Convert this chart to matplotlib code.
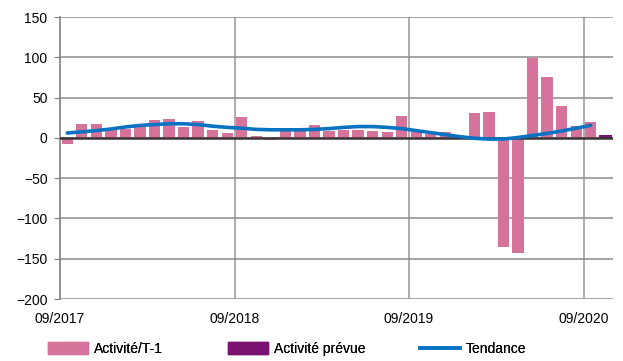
import numpy as np
import matplotlib
matplotlib.use("Agg")
import matplotlib.pyplot as plt
from matplotlib.patches import Patch
from matplotlib.lines import Line2D

plt.rcParams["font.family"] = ["Liberation Sans", "DejaVu Sans"]

# monthly series, 09/2017 .. 09/2020
activite_t1 = [-8, 17.5, 17.5, 10, 11.5, 15, 22, 24, 13.5, 20.5, 10, 5.5,
               26, 2.5, -2.5, 8, 8, 16, 9, 9.5, 10, 8.5, 7, 27,
               8, 4.5, 7.5, 2, 30.5, 32, -136, -143, 99, 76, 40, 15,
               20]
# forecast for the following month (10/2020)
activite_prevue = [4]
tendance = [6, 7.5, 9, 11, 13.5, 15.5, 16.5, 17.5, 17.5, 16.5, 14.5, 13,
            12, 10.5, 10, 10, 10, 10.5, 11.5, 13, 14, 14, 13, 11.5,
            9, 6.5, 4, 1.5, -0.5, -1.5, -1.5, 0.5, 3, 5.5, 8.5, 12,
            15.5]
tick_labels = ["09/2017", "09/2018", "09/2019", "09/2020"]
tick_pos = [0, 12, 24, 36]

PINK = "#D5739B"
PURPLE = "#7A1272"
BLUE = "#0A72C2"
GRID = "#8C8C8C"

fig = plt.figure(figsize=(6.23, 3.61), dpi=100)
ax = fig.add_axes([0.0963, 0.1717, 0.887, 0.7812])

n_obs = len(activite_t1)
x_obs = np.arange(n_obs) + 0.5
x_prev = np.arange(n_obs, n_obs + len(activite_prevue)) + 0.5

ax.bar(x_obs, activite_t1, width=0.78, color=PINK, zorder=2)
ax.bar(x_prev, activite_prevue, width=0.85, color=PURPLE, zorder=2)
ax.plot(x_obs[:len(tendance)], tendance, color=BLUE, lw=2.6,
        solid_capstyle="round", zorder=4)
ax.axhline(0, color="#3C3436", lw=1.8, zorder=3)

ax.set_xlim(0, n_obs + len(activite_prevue))
ax.set_ylim(-200, 150)
ax.set_yticks(np.arange(-200, 151, 50))
ax.set_xticks(tick_pos)
ax.set_xticklabels(tick_labels)

ax.grid(True, axis="y", color=GRID, lw=1.1, zorder=0)
for p in tick_pos[1:]:
    ax.axvline(p, color="#A6A6A6", lw=1.3, zorder=1)

for s in ["top", "right", "bottom"]:
    ax.spines[s].set_visible(False)
ax.spines["left"].set_color("#7F7F7F")
ax.spines["left"].set_linewidth(1.2)

ax.tick_params(axis="y", length=4, color="#7F7F7F", labelsize=10, pad=5)
ax.tick_params(axis="x", length=0, labelsize=10, pad=9)

# one legend box per entry, so each sits at its own spot along the bottom
entries = [(Patch(color=PINK), "Activité/T-1", 48),
           (Patch(color=PURPLE), "Activité prévue", 228),
           (Line2D([], [], color=BLUE, lw=2.6), "Tendance", 420)]
for handle, label, px in entries:
    leg = fig.legend([handle], [label], loc="center left",
                     bbox_to_anchor=(px / 623, 12 / 361), frameon=False,
                     fontsize=10, handlelength=2.9, handleheight=0.9,
                     handletextpad=0.4, borderpad=0, borderaxespad=0)
    fig.add_artist(leg)

fig.savefig("out.png", dpi=100)
